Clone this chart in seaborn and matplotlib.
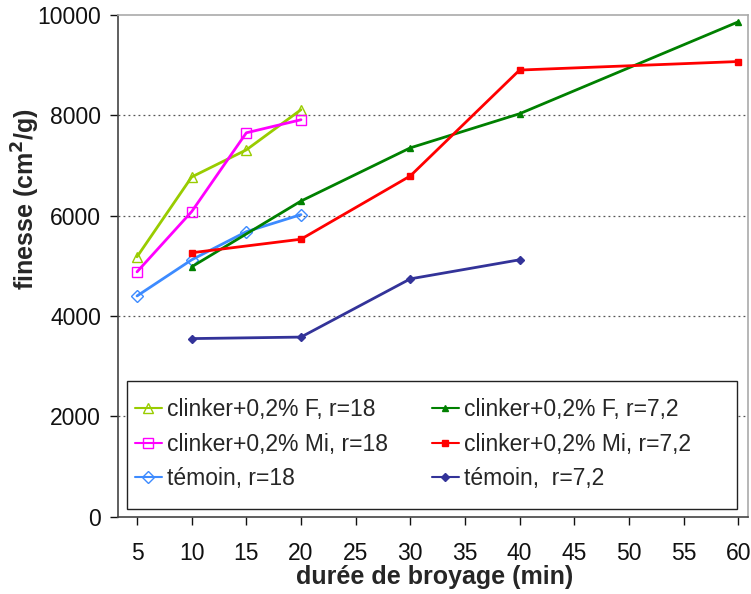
import matplotlib
matplotlib.use("Agg")
import matplotlib.pyplot as plt
from matplotlib.patches import Rectangle
import seaborn as sns
import pandas as pd

# Grinding time (min) and fineness (cm2/g) for each mix
t_r18 = [5, 10, 15, 20]
f_r18 = [5180, 6770, 7310, 8110]
mi_r18 = [4880, 6080, 7650, 7910]
temoin_r18 = [4400, 5120, 5680, 6020]

t_r72 = [10, 20, 30, 40, 60]
f_r72 = [4980, 6290, 7350, 8030, 9860]
mi_r72 = [5260, 5530, 6790, 8900, 9070]
t_temoin_r72 = [10, 20, 30, 40]
temoin_r72 = [3550, 3580, 4740, 5120]

labels = [
    "clinker+0,2% F, r=18",
    "clinker+0,2% Mi, r=18",
    "témoin, r=18",
    "clinker+0,2% F, r=7,2",
    "clinker+0,2% Mi, r=7,2",
    "témoin,  r=7,2",
]
x_ticks = [5, 10, 15, 20, 25, 30, 35, 40, 45, 50, 55, 60]
y_ticks = [0, 2000, 4000, 6000, 8000, 10000]

sns.set_theme(style="white")
plt.rcParams["font.family"] = ["Liberation Sans", "DejaVu Sans"]

fig = plt.figure(figsize=(7.51, 5.94), dpi=100)
ax = fig.add_axes([0.157, 0.130, 0.839, 0.845])

series = [
    (t_r18, f_r18, labels[0], "#99CC00", "^", "none", 7),
    (t_r18, mi_r18, labels[1], "#FF00FF", "s", "none", 7),
    (t_r18, temoin_r18, labels[2], "#3D8BFF", "D", "none", 6),
    (t_r72, f_r72, labels[3], "#008000", "^", None, 5),
    (t_r72, mi_r72, labels[4], "#FF0000", "s", None, 5),
    (t_temoin_r72, temoin_r72, labels[5], "#333399", "D", None, 4.5),
]

for xs, ys, lab, col, mk, mfc, ms in series:
    df = pd.DataFrame({"t": xs, "v": ys})
    kw = dict(markerfacecolor=mfc if mfc else col, markeredgecolor=col,
              markersize=ms, markeredgewidth=1.0)
    sns.lineplot(data=df, x="t", y="v", ax=ax, color=col, linewidth=2,
                 marker=mk, label=lab, **kw)

ax.set_xlim(3.25, 60.9)
ax.set_ylim(0, 10000)
ax.set_xticks(x_ticks)
ax.set_yticks(y_ticks)
ax.tick_params(axis="both", labelsize=16.5, colors="#111111", length=6,
               width=1, direction="out", bottom=True, left=True, pad=6)
ax.tick_params(axis="x", pad=12)

for g in [2000, 4000, 6000, 8000]:
    ax.axhline(g, color="#555555", linestyle=(0, (1.5, 2.5)), linewidth=0.9, zorder=0)

for s in ["top", "right"]:
    ax.spines[s].set_color("#aaaaaa")
    ax.spines[s].set_linewidth(1.2)
for s in ["left", "bottom"]:
    ax.spines[s].set_color("#444444")
    ax.spines[s].set_linewidth(1.2)

ax.set_xlabel("durée de broyage (min)", fontsize=18, fontweight="bold")
ax.set_ylabel("finesse (cm$^\\mathbf{2}$/g)", fontsize=18, fontweight="bold")
ax.xaxis.set_label_coords(0.503, -0.1195)
ax.xaxis.label.set_va("center")
ax.yaxis.set_label_coords(-0.146, 0.633)
ax.yaxis.label.set_va("center")

# legend frame drawn as a separate box, entries placed inside it
frame = Rectangle((0.0143, 0.016), 0.968, 0.255, transform=ax.transAxes,
                  facecolor="white", edgecolor="#222222", linewidth=1.0, zorder=4)
ax.add_patch(frame)

leg = ax.legend(ncol=2, loc="upper left", bbox_to_anchor=(0.027, 0.236),
                fontsize=16.5, frameon=False,
                handlelength=1.18, handletextpad=0.22, labelspacing=0.5,
                borderaxespad=0, borderpad=0, columnspacing=1.9)
leg.set_zorder(5)
for h in leg.legend_handles:
    h.set_linewidth(1.5)

fig.savefig("out.png", dpi=100)
